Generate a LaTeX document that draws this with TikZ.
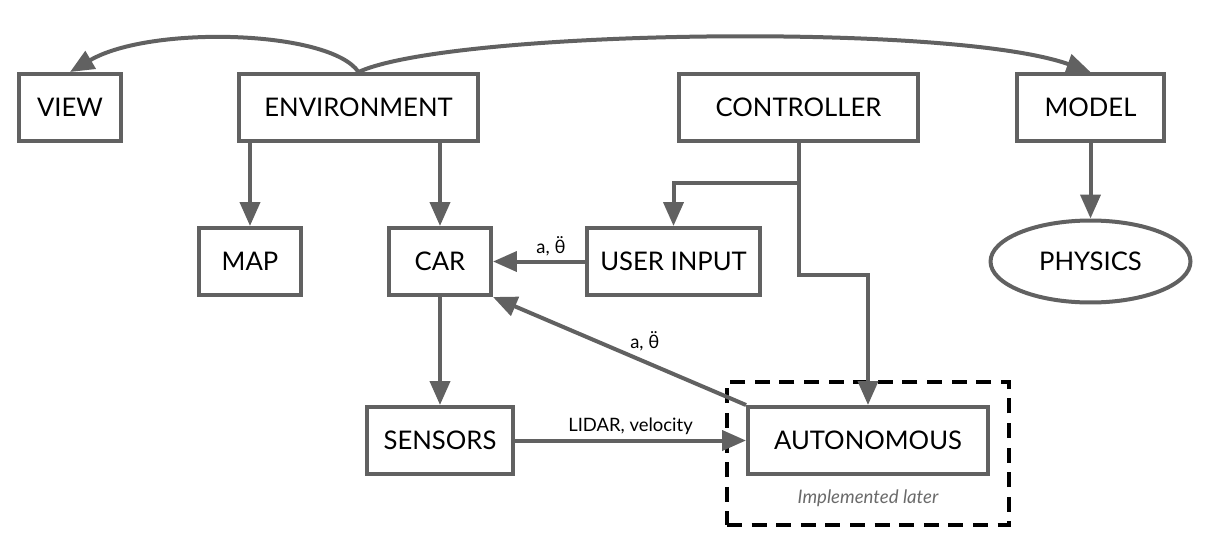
\documentclass[tikz,border=0pt]{standalone}
\usepackage{fontspec}
\setmainfont{Lato}
\usetikzlibrary{positioning,arrows.meta,shapes.geometric}
\definecolor{linegray}{HTML}{616161}
\definecolor{notegray}{HTML}{6A6A6A}

\begin{document}
\begin{tikzpicture}[x=0.02cm,y=-0.02cm,
    box/.style={draw=linegray,line width=0.08cm,minimum height=1.34cm,inner sep=0pt,
      font=\fontsize{14.6}{17}\selectfont},
    flow/.style={draw=linegray,line width=0.08cm,-{Triangle[length=0.48cm,width=0.4cm]}},
    lbl/.style={font=\fontsize{10.5}{12}\selectfont,inner sep=2pt},
    groupbox/.style={draw=black,line width=0.08cm,dash pattern=on 8.5pt off 5.5pt}]
    \useasboundingbox (0,0) rectangle (1206,548);
    % top row
    \node[box,minimum width=2.04cm] (view) at (70,107.5) {VIEW};
    \node[box,minimum width=4.78cm] (env) at (358.5,107.5) {ENVIRONMENT};
    \node[box,minimum width=4.78cm] (ctrl) at (798.5,107.5) {CONTROLLER};
    \node[box,minimum width=2.94cm] (model) at (1090.5,107.5) {MODEL};
    % middle row
    \node[box,minimum width=2.04cm] (map) at (250,261.5) {MAP};
    \node[box,minimum width=2.04cm] (car) at (440,261.5) {CAR};
    \node[box,minimum width=3.46cm] (uin) at (673.5,261.5) {USER INPUT};
    \node[box,ellipse,minimum width=4cm,minimum height=1.64cm] (physics) at (1090.5,261.5) {PHYSICS};
    % bottom row
    \node[box,minimum width=2.92cm] (sensors) at (440,440.5) {SENSORS};
    \node[box,minimum width=4.8cm] (auto) at (868,440.5) {AUTONOMOUS};
    \node[groupbox,minimum width=5.64cm,minimum height=2.86cm] (later) at (868,453.5) {};
    \node[font=\fontsize{10.6}{13}\selectfont\itshape,text=notegray] (latertext) at (868,498) {Implemented later};
    % connectors
    \coordinate (fork) at (798.5,183);
    \coordinate (bend) at (798.5,275);
    \draw[flow] (env.north) .. controls (330,30) and (150,25) .. (view.north);
    \draw[flow] (env.north) .. controls (450,30) and (950,22) .. (model.north);
    \draw[flow] (env.south -| map) -- (map);
    \draw[flow] (env.south -| car) -- (car);
    \draw[flow] (model) -- (physics);
    \draw[flow] (ctrl.south) -- (fork) -| (uin.north);
    \draw[flow] (fork) -- (bend) -| (auto.north);
    \draw[flow] (uin.west) -- node[lbl,above,pos=0.37] {a, θ̈} (car.east);
    \draw[flow] (auto.north west) -- node[lbl,above=3pt,pos=0.4] {a, θ̈} (car.south east);
    \draw[flow] (car) -- (sensors);
    \draw[flow] (sensors) -- node[lbl,above] {LIDAR, velocity} (auto);
\end{tikzpicture}
\end{document}
